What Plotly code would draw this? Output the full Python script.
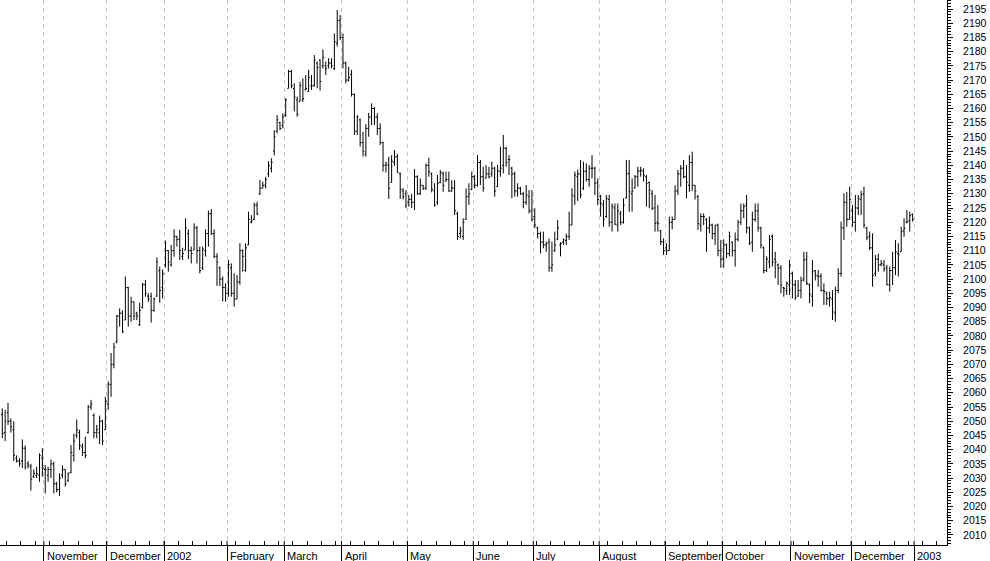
import plotly.graph_objects as go

# ---- daily OHLC values (Oct 2001 - Dec 2002) ----
opens = [
    2052.4, 2046, 2053, 2050, 2047, 2037, 2036, 2036, 2040.5, 2035,
    2034, 2030.5, 2031, 2031, 2037, 2033, 2031, 2033, 2035, 2028,
    2026, 2031, 2033, 2029, 2032, 2038, 2045, 2046, 2041, 2039,
    2046, 2055, 2052, 2046, 2046, 2050, 2047, 2056, 2063, 2070,
    2078, 2087, 2088, 2085.6, 2097, 2087, 2092, 2088, 2084, 2090,
    2098, 2094, 2094, 2089, 2094, 2103, 2097, 2105, 2110, 2105,
    2110, 2115, 2114, 2108, 2110.2, 2116, 2110, 2110.2, 2118, 2110,
    2104, 2110, 2116, 2123, 2116, 2108, 2104, 2100, 2097, 2095,
    2104, 2095, 2093, 2099, 2110, 2103, 2112, 2120, 2121, 2126,
    2130, 2132, 2133, 2137, 2139, 2145, 2152, 2155, 2154, 2157.5,
    2167.1, 2173, 2167, 2163, 2162.4, 2163, 2166.5, 2166, 2168, 2168,
    2176, 2177, 2175, 2175, 2175, 2176, 2174, 2183, 2191, 2185,
    2176, 2170, 2172, 2165, 2152, 2156, 2148, 2144, 2153, 2157,
    2160, 2157, 2153, 2148, 2140, 2140, 2134, 2141, 2143, 2137,
    2131, 2130, 2127, 2128, 2127, 2136, 2130, 2133, 2132, 2140,
    2137, 2131, 2127, 2134, 2137, 2134.5, 2135, 2131, 2132, 2123,
    2116, 2115, 2121, 2129, 2131.5, 2136, 2133, 2141, 2136, 2135.5,
    2137, 2137, 2139, 2132.5, 2138, 2140, 2146, 2142, 2139, 2137,
    2131, 2132, 2130, 2127, 2129, 2124, 2122, 2118, 2116, 2113,
    2112, 2113, 2104, 2110, 2114, 2112, 2113, 2113.5, 2115, 2119,
    2129, 2136, 2137, 2132, 2138, 2135, 2139, 2139, 2134, 2129,
    2126, 2122, 2128, 2120, 2125, 2119, 2123, 2120, 2128.5, 2137,
    2130, 2132, 2136, 2138, 2138, 2136, 2134, 2130, 2125, 2120,
    2117, 2113, 2111, 2110, 2120, 2121, 2131, 2137, 2139, 2136,
    2133, 2141, 2133, 2129, 2119, 2122, 2121, 2118, 2119, 2116,
    2119, 2110, 2107, 2112, 2109, 2113, 2110, 2114, 2120, 2124,
    2126, 2118, 2113, 2121, 2124, 2118, 2111, 2103, 2106, 2115,
    2107, 2105, 2104, 2097, 2096, 2098, 2102, 2098, 2094, 2096,
    2100, 2107, 2098, 2094, 2103, 2101, 2101, 2096, 2095, 2093,
    2093, 2088, 2096, 2102, 2118, 2127, 2121, 2124, 2120, 2125,
    2128, 2130, 2118, 2115, 2111, 2102, 2107, 2105, 2105, 2104,
    2098, 2103, 2104, 2109, 2109.6, 2117, 2120, 2120.5, 2122.7,
]
highs = [
    2054.5, 2054, 2056.5, 2051, 2050, 2038, 2037, 2043.6, 2041.5, 2036,
    2035, 2033, 2034, 2038.7, 2040.5, 2034.6, 2034, 2036.5, 2035.8, 2028.7,
    2031.7, 2034.5, 2033, 2032, 2041.6, 2045.7, 2050.6, 2047, 2042.2, 2044.6,
    2055.7, 2057.5, 2052.8, 2048.7, 2052, 2050.5, 2058.6, 2064, 2074, 2077.6,
    2087.4, 2089.7, 2089, 2100.9, 2097.3, 2093.8, 2092, 2088.5, 2091.7, 2098.7,
    2099.7, 2095, 2095.2, 2093.5, 2107.6, 2104.4, 2103.4, 2113.5, 2110.2, 2112,
    2117.5, 2115.2, 2117.3, 2111, 2121.4, 2117.5, 2111.4, 2119.6, 2118.7, 2111.4,
    2111.4, 2117.5, 2124.1, 2124.6, 2117.5, 2109.1, 2104.4, 2100.9, 2098.5, 2106.7,
    2105.5, 2102, 2101.4, 2112.6, 2110.5, 2112.6, 2123.7, 2122.5, 2126.9, 2127.2,
    2134.9, 2134.3, 2136, 2141.5, 2142.5, 2152.4, 2157.7, 2155.4, 2158.3, 2163.6,
    2173.6, 2173.6, 2168.9, 2164.2, 2169.4, 2170.6, 2171.8, 2173.6, 2171.8, 2178.8,
    2176.5, 2177.3, 2180.8, 2176.5, 2177.7, 2177.7, 2186.4, 2194.7, 2192.9, 2186.4,
    2176.5, 2174.7, 2173.6, 2165.3, 2157.7, 2156.5, 2151.8, 2154.5, 2158.5, 2161.8,
    2160.5, 2158.3, 2154.8, 2148.3, 2141.3, 2143, 2143.6, 2145.4, 2144, 2137.5,
    2132, 2131.3, 2129.6, 2130, 2138.7, 2136.5, 2135.4, 2133.1, 2140.7, 2142.7,
    2137.5, 2133.7, 2136.6, 2138.4, 2137.8, 2137.8, 2137.8, 2134.8, 2134.8, 2123.7,
    2118.4, 2121.4, 2131.9, 2133.7, 2137.8, 2136.6, 2143.6, 2141.9, 2139.5, 2140.1,
    2139.5, 2141.3, 2139.5, 2140.1, 2146.6, 2150.7, 2146.5, 2143.6, 2139.5, 2137.8,
    2133.7, 2132.5, 2130.7, 2133.1, 2131.3, 2131.3, 2124.9, 2118.4, 2116.7, 2116.7,
    2113.2, 2114.3, 2113.2, 2116.7, 2120.8, 2113, 2114.3, 2116, 2123.7, 2131.9,
    2137.8, 2138.5, 2141.9, 2141.3, 2140.7, 2140.1, 2143.6, 2139.5, 2135.4, 2129.6,
    2127.8, 2129.6, 2129.6, 2126.6, 2126.6, 2126.6, 2124, 2128.4, 2141.9, 2141.9,
    2135.4, 2136.6, 2139.5, 2139.5, 2139, 2136.6, 2134.3, 2131.3, 2129.6, 2126.1,
    2117.3, 2114.3, 2112.6, 2122, 2122, 2133, 2138.4, 2140.1, 2141.9, 2140.1,
    2143.6, 2144.8, 2133.1, 2129.6, 2123.1, 2123.1, 2121.4, 2122, 2119.5, 2119,
    2119.5, 2113.8, 2114, 2112.5, 2116.7, 2113.2, 2116.4, 2120.8, 2126.6, 2126.6,
    2129.6, 2118.5, 2123.7, 2126.6, 2126.6, 2118.4, 2111.5, 2108, 2115.5, 2115.7,
    2109.6, 2105.5, 2104.9, 2097.3, 2099.1, 2106.7, 2102.6, 2099.7, 2099.7, 2100.9,
    2109.6, 2109.6, 2098.5, 2106.7, 2103.2, 2103.2, 2102, 2098.5, 2095.6, 2095.6,
    2096.1, 2097.3, 2103.8, 2120.2, 2130.2, 2130.7, 2132.5, 2126.1, 2129.6, 2129.6,
    2131, 2132.5, 2118.4, 2116.7, 2116.1, 2108.5, 2109, 2106.7, 2106.7, 2105,
    2104.4, 2109.6, 2113.7, 2112.6, 2118.4, 2121.4, 2124.3, 2123.7, 2123.1,
]
lows = [
    2044, 2043, 2048.7, 2046, 2036, 2035.5, 2034, 2033.5, 2033, 2033.4,
    2025.6, 2030, 2030, 2028.7, 2030.5, 2024.6, 2028.7, 2030, 2024.6, 2025,
    2023.7, 2030, 2027, 2028.7, 2031.7, 2035.8, 2044, 2039.9, 2037.8, 2037,
    2045.7, 2054, 2044, 2044, 2042, 2041.6, 2047, 2054, 2058.6, 2068.6,
    2077.4, 2083.3, 2081, 2085.6, 2083.3, 2085, 2085.6, 2085.6, 2083.5, 2089.7,
    2093.8, 2092, 2084.7, 2088.5, 2093.8, 2091.7, 2093.2, 2104.1, 2102.6, 2104.4,
    2107.9, 2111.4, 2106.7, 2106.7, 2110.2, 2107, 2105.5, 2110.2, 2105.5, 2102,
    2103.2, 2107.9, 2111.4, 2115.5, 2107.3, 2097.6, 2097.6, 2092.1, 2092.1, 2093.8,
    2093.8, 2090.3, 2093, 2098, 2102.6, 2102.6, 2112, 2119.6, 2120.8, 2122.5,
    2129.6, 2131.9, 2131.9, 2135.8, 2137.5, 2143.5, 2151.3, 2152.4, 2153, 2157.1,
    2167.1, 2167.1, 2159, 2157.1, 2162.4, 2162.4, 2166.5, 2165.9, 2166.5, 2167.7,
    2167.1, 2166.3, 2174.1, 2171.8, 2174.1, 2174.1, 2173.6, 2181.8, 2184.1, 2174.1,
    2168.9, 2169.5, 2164.2, 2150.7, 2150.7, 2146.6, 2143.1, 2143.1, 2150.1, 2154.2,
    2154.2, 2150.7, 2147.2, 2137.8, 2137.5, 2128.2, 2134, 2139.9, 2137.5, 2128.2,
    2128, 2124.9, 2125.5, 2125, 2124.3, 2129.6, 2129.6, 2131.3, 2131.3, 2136,
    2130.5, 2125.5, 2126.1, 2133.7, 2130.7, 2134.3, 2130.7, 2130.7, 2122.5, 2113.8,
    2114.3, 2113.8, 2120.8, 2126.1, 2131.3, 2131.9, 2132.5, 2133.1, 2130.7, 2135.4,
    2135.4, 2136, 2129, 2132.5, 2136, 2137.2, 2139.5, 2136.6, 2128.4, 2129,
    2129, 2129.6, 2124.9, 2126.1, 2123.1, 2120.2, 2117.9, 2114.3, 2109, 2110.8,
    2109.6, 2102.6, 2102.6, 2109.6, 2113.8, 2108, 2112, 2112, 2113.8, 2119,
    2126.1, 2127.5, 2128.4, 2131.3, 2134.3, 2132.5, 2135.4, 2129.6, 2126, 2122,
    2118.4, 2121.5, 2118.4, 2116.7, 2119, 2116.7, 2119, 2119.5, 2128.4, 2123.7,
    2123.7, 2131.9, 2132.5, 2136, 2134.3, 2125.5, 2124.9, 2124.3, 2116.7, 2116.7,
    2112, 2108.5, 2108.5, 2110, 2117.5, 2121, 2129.6, 2132.5, 2135.4, 2128.4,
    2130.7, 2131, 2128, 2117.3, 2116.7, 2119, 2109.6, 2116.1, 2114, 2112,
    2108, 2104, 2104, 2107.3, 2108, 2107.9, 2104.4, 2113.2, 2119, 2121.4,
    2116.1, 2112, 2109.6, 2120.2, 2116.7, 2110.8, 2102, 2102.5, 2103.8, 2104.4,
    2100.3, 2097.9, 2095, 2093.8, 2094.4, 2094.4, 2093.2, 2092.6, 2093.8, 2093.2,
    2099.1, 2097.9, 2091.5, 2090.3, 2099.5, 2097.3, 2095.6, 2090.9, 2090.9, 2090.3,
    2085.6, 2085, 2095, 2100.9, 2113.7, 2118.4, 2120.8, 2118.4, 2116.7, 2122.5,
    2122.5, 2117.9, 2113.7, 2110.2, 2097.3, 2100.9, 2102.6, 2104.5, 2102.6, 2097.9,
    2095.6, 2097.9, 2101.4, 2100.9, 2109.6, 2114.9, 2119.6, 2116.7, 2120.2,
]
closes = [
    2045.7, 2050, 2050, 2048, 2038, 2036, 2035, 2040.5, 2034, 2034.5,
    2029.6, 2031.7, 2031.5, 2038, 2033.4, 2033, 2033, 2035, 2028, 2026,
    2030, 2033, 2028, 2031.5, 2039, 2043, 2047, 2041.5, 2039, 2038,
    2055, 2056, 2046, 2047, 2050, 2043, 2057, 2063, 2070, 2076,
    2087, 2088, 2081.5, 2097, 2087, 2092, 2087, 2087, 2089, 2098,
    2095, 2093, 2089, 2093, 2106, 2096, 2102, 2110, 2106, 2110,
    2115, 2114, 2110, 2109, 2118, 2110, 2109, 2118, 2110, 2103,
    2110.5, 2116, 2123, 2116, 2108, 2106, 2100, 2097, 2095, 2105,
    2095, 2093, 2099, 2110, 2108, 2111, 2121, 2120.5, 2126, 2123,
    2132, 2133, 2135, 2140, 2141, 2150, 2156, 2153, 2157, 2163,
    2173, 2168, 2164, 2158, 2168, 2163.5, 2167, 2171, 2168, 2177,
    2174.5, 2169.5, 2178, 2174, 2176, 2175, 2183.5, 2191, 2185, 2176,
    2170, 2171, 2165, 2152, 2157, 2148, 2145, 2153, 2157, 2160,
    2157, 2153, 2148, 2140, 2140.5, 2131.9, 2141.5, 2143, 2137.5, 2131.5,
    2129, 2126, 2128, 2127, 2136, 2130, 2133, 2132, 2140, 2137.8,
    2131.5, 2126, 2133.7, 2137.5, 2133, 2135, 2131, 2132, 2124, 2115,
    2117, 2120, 2129, 2130, 2136, 2133, 2141, 2136, 2132, 2137,
    2136, 2139, 2131, 2138, 2139, 2146, 2141, 2142, 2137, 2131,
    2132, 2130, 2127, 2129.6, 2124, 2121, 2119, 2116, 2113, 2112,
    2112.5, 2104, 2105, 2112, 2118, 2112.5, 2113.8, 2115, 2119, 2129.6,
    2136.6, 2137, 2129.6, 2137.8, 2135, 2139, 2139, 2133.7, 2128, 2126.6,
    2121, 2128.4, 2120, 2125.5, 2119.3, 2124, 2120, 2126, 2137.2, 2130.7,
    2131, 2136, 2138, 2138.3, 2136.6, 2133.7, 2131.3, 2124.9, 2119.6, 2119.5,
    2113.2, 2110, 2110, 2120, 2121, 2131, 2137, 2139, 2136, 2134,
    2141, 2133, 2131, 2119.6, 2122, 2121.9, 2118, 2119, 2116, 2119,
    2110, 2107, 2112, 2109, 2115, 2110, 2114, 2120, 2124, 2125.5,
    2118, 2112.6, 2121, 2124, 2118, 2112, 2103, 2107, 2114, 2106,
    2106, 2103.8, 2097.9, 2096.7, 2098.5, 2105, 2098, 2093.5, 2096, 2099.5,
    2106.7, 2098.5, 2094.7, 2102.6, 2101.4, 2101, 2096, 2095.6, 2093.2, 2093.5,
    2088.5, 2096, 2102, 2118, 2127, 2121, 2128, 2120, 2125, 2128.4,
    2129.6, 2119, 2114.5, 2111, 2101.4, 2107, 2105, 2105.5, 2103.5, 2098,
    2103, 2104, 2109.6, 2108.5, 2116.7, 2117.9, 2120.2, 2122.3, 2121,
]

# month labels and the bar index of each month's first session
month_labels = ["November", "December", "2002", "February", "March", "April",
                "May", "June", "July", "August", "September", "October",
                "November", "December", "2003"]
month_first_bar = [15, 37, 57, 79, 99, 119, 142, 165, 186, 209, 232, 252, 276, 297, 319]

y_min, y_max = 2006.46, 2198.17

bar_idx = list(range(len(closes)))
month_lines = [m - 0.5 for m in month_first_bar]

FONT = "Liberation Sans, Arial, sans-serif"

fig = go.Figure(
    go.Ohlc(
        x=bar_idx, open=opens, high=highs, low=lows, close=closes,
        increasing=dict(line=dict(color="black", width=1)),
        decreasing=dict(line=dict(color="black", width=1)),
        tickwidth=0.45,
        hoverinfo="skip",
    )
)

# month labels, left aligned next to the separator lines
for pos, lab in zip(month_lines, month_labels):
    fig.add_annotation(
        x=pos, y=-0.0193, xref="x", yref="paper", text=lab, showarrow=False,
        xanchor="left", yanchor="middle", xshift=1,
        font=dict(family=FONT, size=11, color="black"),
    )
    fig.add_shape(type="line", xref="x", yref="paper", x0=pos, x1=pos,
                  y0=0, y1=0.0075, line=dict(color="black", width=1))

fig.update_layout(
    width=990, height=561,
    margin=dict(l=0, r=43, t=0, b=16, pad=0),
    paper_bgcolor="white", plot_bgcolor="white",
    showlegend=False,
    font=dict(family=FONT, size=11, color="black"),
    xaxis=dict(
        range=[-0.8, 330.0],
        rangeslider=dict(visible=False),
        tickmode="array", tickvals=month_lines, showticklabels=False,
        ticks="outside", ticklen=16, tickcolor="black", tickwidth=1,
        showgrid=True, gridcolor="#c8c8c8", griddash="4px,4px", gridwidth=1,
        showline=True, linecolor="black", linewidth=1,
        zeroline=False, automargin=False, fixedrange=True,
        minor=dict(ticks="inside", ticklen=4, tickcolor="black", tickwidth=1,
                   tickmode="linear", tick0=1.5, dtick=5, showgrid=False),
    ),
    yaxis=dict(
        side="right", range=[y_min, y_max],
        tickmode="linear", tick0=2010, dtick=5,
        ticks="outside", ticklen=5, tickcolor="black", tickwidth=1,
        showline=True, linecolor="black", linewidth=1,
        showgrid=False, zeroline=False, automargin=False, fixedrange=True,
        tickfont=dict(family=FONT, size=10.5, color="black"),
        ticklabelstandoff=8,
        minor=dict(ticks="outside", ticklen=3, tickcolor="black", tickwidth=1,
                   tick0=2010, dtick=1, showgrid=False),
    ),
)

fig.write_html(
    "out.html",
    config={"displayModeBar": False, "staticPlot": True},
    post_script="document.body.style.margin='0px';document.body.style.padding='0px';document.body.style.overflow='hidden';",
)
